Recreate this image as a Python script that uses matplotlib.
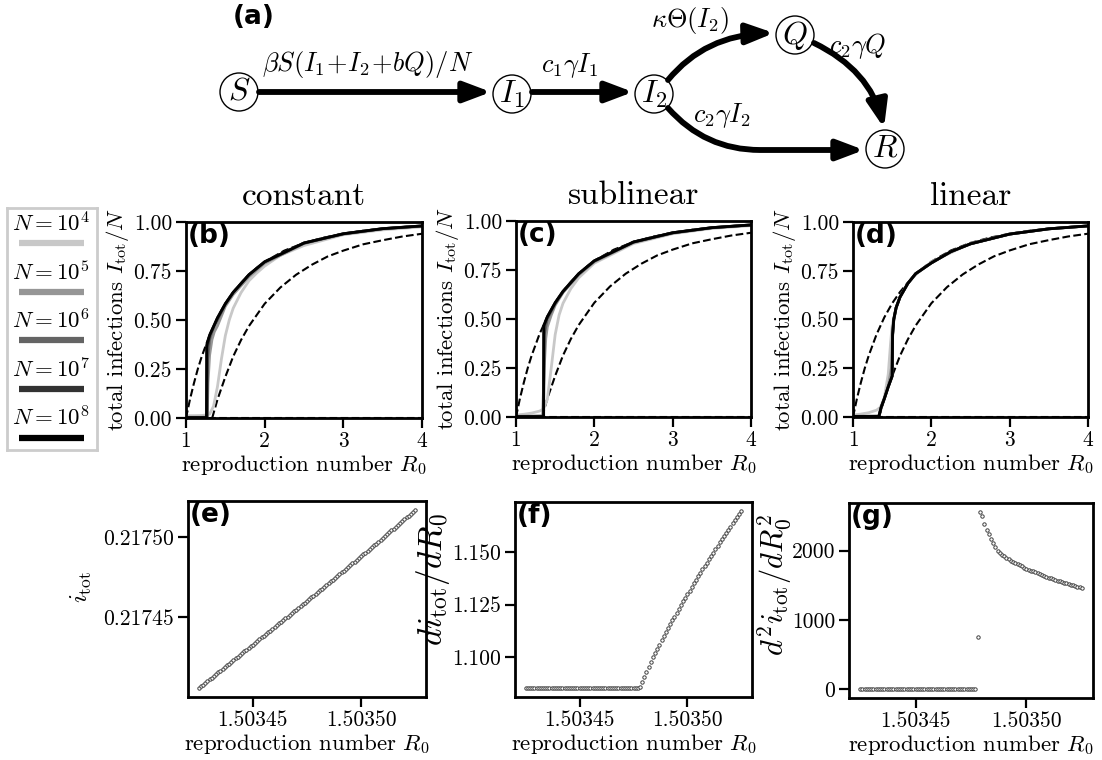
import numpy as np
import matplotlib.pyplot as plt
from matplotlib.patches import Circle, FancyArrowPatch, ArrowStyle
from matplotlib.path import Path
from matplotlib.ticker import FixedLocator, FormatStrFormatter

plt.rcParams['font.family'] = 'serif'
plt.rcParams['font.serif'] = ['cmr10']
plt.rcParams['mathtext.fontset'] = 'cm'
plt.rcParams['axes.unicode_minus'] = False

# ---- mean-field final sizes (dashed) ----
sir_r = [1.0, 1.05, 1.1, 1.15, 1.2, 1.3, 1.4, 1.5, 1.6, 1.7, 1.8, 1.9, 2.0,
         2.25, 2.5, 2.75, 3.0, 3.25, 3.5, 3.75, 4.0]
sir_i = [0.0, 0.094, 0.176, 0.250, 0.314, 0.423, 0.511, 0.583, 0.641, 0.689,
         0.731, 0.766, 0.797, 0.854, 0.893, 0.920, 0.940, 0.955, 0.966, 0.974, 0.980]
quar_r = [1.333, 1.4, 1.5, 1.6, 1.7, 1.8, 2.0, 2.2, 2.4, 2.6, 2.8, 3.0, 3.25,
          3.5, 3.75, 4.0]
quar_i = [0.0, 0.094, 0.210, 0.314, 0.398, 0.469, 0.583, 0.666, 0.731, 0.782,
          0.824, 0.854, 0.886, 0.907, 0.926, 0.940]

N_labels = [r'$N=10^4$', r'$N=10^5$', r'$N=10^6$', r'$N=10^7$', r'$N=10^8$']
N_colors = ['#c8c8c8', '#969696', '#646464', '#323232', '#000000']

# ---- constant quarantine capacity ----
const_r4 = [1.0, 1.1, 1.2, 1.25, 1.3, 1.35, 1.4, 1.45, 1.5, 1.55, 1.6, 1.7, 1.8, 1.9, 2.0, 2.2, 2.5, 3.0, 3.5, 4.0]
const_i4 = [0.012, 0.012, 0.013, 0.015, 0.02, 0.06, 0.16, 0.30, 0.42, 0.50, 0.56, 0.64, 0.70, 0.74, 0.775, 0.83, 0.88, 0.935, 0.96, 0.975]
const_r5 = [1.0, 1.2, 1.27, 1.28, 1.3, 1.33, 1.36, 1.4, 1.45, 1.5, 1.6, 1.8, 2.0, 2.5, 3.0, 3.5, 4.0]
const_i5 = [0.004, 0.004, 0.006, 0.18, 0.32, 0.40, 0.44, 0.47, 0.52, 0.57, 0.63, 0.72, 0.79, 0.89, 0.938, 0.965, 0.979]
const_r6 = [1.0, 1.2, 1.27, 1.275, 1.3, 1.33, 1.36, 1.4, 1.5, 1.6, 1.8, 2.0, 2.5, 3.0, 3.5, 4.0]
const_i6 = [0.002, 0.002, 0.003, 0.30, 0.40, 0.44, 0.47, 0.50, 0.58, 0.64, 0.73, 0.795, 0.892, 0.94, 0.966, 0.98]
const_r7 = [1.0, 1.2, 1.265, 1.27, 1.3, 1.4, 1.5, 1.6, 1.8, 2.0, 2.5, 3.0, 3.5, 4.0]
const_i7 = [0.002, 0.002, 0.002, 0.36, 0.42, 0.51, 0.583, 0.641, 0.731, 0.797, 0.893, 0.94, 0.966, 0.98]
const_r8 = [1.0, 1.2, 1.26, 1.262, 1.3, 1.4, 1.5, 1.6, 1.8, 2.0, 2.5, 3.0, 3.5, 4.0]
const_i8 = [0.002, 0.002, 0.002, 0.37, 0.423, 0.511, 0.583, 0.641, 0.731, 0.797, 0.893, 0.94, 0.966, 0.98]

# ---- sublinear ----
sub_r4 = [1.0, 1.1, 1.2, 1.3, 1.35, 1.4, 1.45, 1.5, 1.55, 1.6, 1.7, 1.8, 2.0, 2.5, 3.0, 3.5, 4.0]
sub_i4 = [0.01, 0.014, 0.02, 0.03, 0.04, 0.09, 0.25, 0.42, 0.52, 0.58, 0.655, 0.71, 0.785, 0.885, 0.935, 0.962, 0.976]
sub_r5 = [1.0, 1.2, 1.34, 1.36, 1.38, 1.4, 1.45, 1.5, 1.6, 1.8, 2.0, 2.5, 3.0, 3.5, 4.0]
sub_i5 = [0.004, 0.005, 0.006, 0.25, 0.40, 0.46, 0.52, 0.57, 0.635, 0.725, 0.792, 0.89, 0.938, 0.965, 0.979]
sub_r6 = [1.0, 1.2, 1.35, 1.36, 1.4, 1.5, 1.6, 1.8, 2.0, 2.5, 3.0, 3.5, 4.0]
sub_i6 = [0.003, 0.003, 0.004, 0.42, 0.50, 0.578, 0.638, 0.729, 0.795, 0.892, 0.94, 0.966, 0.98]
sub_r7 = [1.0, 1.2, 1.352, 1.356, 1.4, 1.5, 1.6, 1.8, 2.0, 2.5, 3.0, 3.5, 4.0]
sub_i7 = [0.002, 0.002, 0.002, 0.46, 0.511, 0.583, 0.641, 0.731, 0.797, 0.893, 0.94, 0.966, 0.98]
sub_r8 = [1.0, 1.2, 1.353, 1.355, 1.4, 1.5, 1.6, 1.8, 2.0, 2.5, 3.0, 3.5, 4.0]
sub_i8 = [0.002, 0.002, 0.002, 0.468, 0.511, 0.583, 0.641, 0.731, 0.797, 0.893, 0.94, 0.966, 0.98]

# ---- linear ----
lin_r4 = [1.0, 1.1, 1.2, 1.3, 1.35, 1.4, 1.45, 1.48, 1.5, 1.55, 1.6, 1.7, 1.8, 2.0, 2.5, 3.0, 3.5, 4.0]
lin_i4 = [0.01, 0.015, 0.022, 0.035, 0.05, 0.10, 0.22, 0.38, 0.47, 0.56, 0.615, 0.685, 0.73, 0.795, 0.89, 0.938, 0.965, 0.979]
lin_r5 = [1.0, 1.2, 1.33, 1.36, 1.4, 1.45, 1.49, 1.5, 1.52, 1.55, 1.6, 1.7, 1.8, 2.0, 2.25, 2.5, 3.0, 3.5, 4.0]
lin_i5 = [0.004, 0.005, 0.006, 0.05, 0.095, 0.16, 0.25, 0.38, 0.49, 0.56, 0.615, 0.685, 0.735, 0.79, 0.848, 0.888, 0.938, 0.965, 0.98]
lin_r8 = [1.0, 1.2, 1.33, 1.36, 1.4, 1.45, 1.5, 1.505, 1.52, 1.55, 1.6, 1.7, 1.8, 2.0, 2.25, 2.5, 3.0, 3.5, 4.0]
lin_i8 = [0.003, 0.003, 0.003, 0.05, 0.094, 0.155, 0.21, 0.42, 0.50, 0.56, 0.615, 0.685, 0.735, 0.79, 0.848, 0.888, 0.938, 0.965, 0.98]

# ---- zoom around the linear-capacity transition ----
r0_fine = np.linspace(1.503425, 1.503525, 101)  # sweep grid, step 1e-6
i_tot = [
    0.2174060, 0.2174071, 0.2174082, 0.2174093, 0.2174103, 0.2174114, 0.2174125, 0.2174136,
    0.2174147, 0.2174158, 0.2174169, 0.2174179, 0.2174190, 0.2174201, 0.2174212, 0.2174223,
    0.2174234, 0.2174245, 0.2174255, 0.2174266, 0.2174277, 0.2174288, 0.2174299, 0.2174310,
    0.2174320, 0.2174331, 0.2174342, 0.2174353, 0.2174364, 0.2174375, 0.2174386, 0.2174396,
    0.2174407, 0.2174418, 0.2174429, 0.2174440, 0.2174451, 0.2174462, 0.2174472, 0.2174483,
    0.2174494, 0.2174505, 0.2174516, 0.2174527, 0.2174538, 0.2174548, 0.2174559, 0.2174570,
    0.2174581, 0.2174592, 0.2174603, 0.2174614, 0.2174624, 0.2174635, 0.2174646, 0.2174657,
    0.2174668, 0.2174679, 0.2174690, 0.2174701, 0.2174712, 0.2174723, 0.2174734, 0.2174745,
    0.2174756, 0.2174767, 0.2174779, 0.2174790, 0.2174801, 0.2174812, 0.2174823, 0.2174835,
    0.2174846, 0.2174857, 0.2174868, 0.2174880, 0.2174891, 0.2174902, 0.2174914, 0.2174925,
    0.2174936, 0.2174948, 0.2174959, 0.2174971, 0.2174982, 0.2174994, 0.2175005, 0.2175017,
    0.2175028, 0.2175040, 0.2175051, 0.2175063, 0.2175074, 0.2175086, 0.2175098, 0.2175109,
    0.2175121, 0.2175132, 0.2175144, 0.2175156, 0.2175168]
di_tot = [1.0853] * 53 + [
    1.0857, 1.0883, 1.0908, 1.0932, 1.0955, 1.0977, 1.0999, 1.1020, 1.1040, 1.1060,
    1.1080, 1.1099, 1.1118, 1.1137, 1.1156, 1.1175, 1.1193, 1.1211, 1.1229, 1.1247,
    1.1265, 1.1283, 1.1300, 1.1317, 1.1334, 1.1351, 1.1368, 1.1385, 1.1402, 1.1418,
    1.1434, 1.1450, 1.1466, 1.1482, 1.1498, 1.1514, 1.1530, 1.1546, 1.1561, 1.1576,
    1.1591, 1.1606, 1.1621, 1.1636, 1.1651, 1.1666, 1.1681, 1.1696]
d2i_tot = [0.0] * 53 + [
    760, 2560, 2495, 2390, 2305, 2235, 2165, 2105, 2050, 1995, 1970, 1940, 1918,
    1895, 1875, 1857, 1838, 1820, 1803, 1787, 1771, 1756, 1741, 1727, 1713, 1699,
    1686, 1673, 1660, 1647, 1635, 1623, 1611, 1600, 1589, 1578, 1567, 1557, 1547,
    1537, 1527, 1518, 1509, 1500, 1491, 1482, 1474, 1466]

W, H = 1102, 760
fig = plt.figure(figsize=(W / 100, H / 100), dpi=100)

TICK_FS = 15.5
LABEL_FS = 16.5


def px_axes(left, top, right, bottom):
    return fig.add_axes([left / W, 1 - bottom / H, (right - left) / W, (bottom - top) / H])


def style(ax, tag):
    for s in ax.spines.values():
        s.set_linewidth(2)
    ax.tick_params(direction='out', length=7, width=1.6, labelsize=TICK_FS, pad=3)
    ax.text(0.006, 0.995, tag, transform=ax.transAxes, ha='left', va='top',
            family='DejaVu Sans', fontweight='bold', fontsize=19)


# ---- (a) compartment diagram ----
ax_a = fig.add_axes([0, 0, 1, 1], zorder=-1)
ax_a.set_xlim(0, W)
ax_a.set_ylim(H, 0)
ax_a.axis('off')

nodes = {'S': (239, 92), 'I_1': (512, 94), 'I_2': (654, 94), 'Q': (795, 35), 'R': (885, 149)}
for name, (x, y) in nodes.items():
    ax_a.add_patch(Circle((x, y), 19, fc='white', ec='black', lw=1))
    ax_a.text(x, y, '$' + name + '$', ha='center', va='center', fontsize=23)

head = ArrowStyle('-|>', head_length=0.9, head_width=0.34)


def flow(verts, codes):
    ax_a.add_patch(FancyArrowPatch(path=Path(verts, codes), arrowstyle=head,
                                   mutation_scale=18, lw=4.2, color='black',
                                   shrinkA=0, shrinkB=0))


flow([(259, 92), (491, 92)], [Path.MOVETO, Path.LINETO])
flow([(532, 92), (633, 92)], [Path.MOVETO, Path.LINETO])
flow([(668, 80), (705, 35), (774, 33)], [Path.MOVETO, Path.CURVE3, Path.CURVE3])
flow([(814, 43), (870, 70), (884, 128)], [Path.MOVETO, Path.CURVE3, Path.CURVE3])
flow([(668, 108), (705, 150), (760, 150), (864, 150)],
     [Path.MOVETO, Path.CURVE3, Path.CURVE3, Path.LINETO])

ax_a.text(368, 65, r'$\beta S(I_1\!+\!I_2\!+\!bQ)/N$', ha='center', va='center', fontsize=19)
ax_a.text(570, 65, r'$c_1\gamma I_1$', ha='center', va='center', fontsize=19)
ax_a.text(690, 20, r'$\kappa\Theta(I_2)$', ha='center', va='center', fontsize=19)
ax_a.text(858, 46, r'$c_2\gamma Q$', ha='center', va='center', fontsize=19)
ax_a.text(722, 116, r'$c_2\gamma I_2$', ha='center', va='center', fontsize=19)
ax_a.text(233, 17, '(a)', ha='left', va='center', family='DejaVu Sans',
          fontweight='bold', fontsize=19)

# ---- (b)-(d) total infections vs R0 ----
panels = [
    ('constant', '(b)', (186, 222, 422, 418),
     [(const_r4, const_i4), (const_r5, const_i5), (const_r6, const_i6),
      (const_r7, const_i7), (const_r8, const_i8)]),
    ('sublinear', '(c)', (516, 221, 751, 417),
     [(sub_r4, sub_i4), (sub_r5, sub_i5), (sub_r6, sub_i6),
      (sub_r7, sub_i7), (sub_r8, sub_i8)]),
    ('linear', '(d)', (853, 222, 1088, 417),
     [(lin_r4, lin_i4), (lin_r5, lin_i5), (lin_r8, lin_i8),
      (lin_r8, lin_i8), (lin_r8, lin_i8)]),
]
for title, tag, box, curves in panels:
    ax = px_axes(*box)
    ax.plot([1, 4], [0, 0], '--', color='black', lw=1.5)
    ax.plot(sir_r, sir_i, '--', color='black', lw=1.5)
    ax.plot(quar_r, quar_i, '--', color='black', lw=1.5)
    for (r, i), c in zip(curves, N_colors):
        ax.plot(r, i, color=c, lw=2)
    ax.set_xlim(1, 4)
    ax.set_ylim(0, 1)
    ax.xaxis.set_major_locator(FixedLocator([1, 2, 3, 4]))
    ax.yaxis.set_major_locator(FixedLocator([0, 0.25, 0.5, 0.75, 1.0]))
    ax.yaxis.set_major_formatter(FormatStrFormatter('%.2f'))
    ax.xaxis.set_major_formatter(FormatStrFormatter('%d'))
    ax.set_title(title, fontsize=24, pad=12)
    ax.set_xlabel(r'reproduction number $R_0$', fontsize=LABEL_FS, labelpad=1)
    ax.set_ylabel(r'total infections $I_{\rm tot}/N$', fontsize=LABEL_FS, labelpad=2)
    style(ax, tag)

# ---- legend box ----
ax_leg = px_axes(7, 208, 97, 450)
ax_leg.set_xlim(7, 97)
ax_leg.set_ylim(450, 208)
ax_leg.set_xticks([])
ax_leg.set_yticks([])
for s in ax_leg.spines.values():
    s.set_edgecolor('#cccccc')
    s.set_linewidth(2)
for k, (lab, c) in enumerate(zip(N_labels, N_colors)):
    y0 = 223 + 48.7 * k
    ax_leg.text(51, y0, lab, ha='center', va='center', fontsize=16.5)
    ax_leg.plot([19, 84], [y0 + 20, y0 + 20], color=c, lw=4.5, solid_capstyle='butt')

# ---- (e)-(g) close-up ----
fine = [
    ('(e)', (188, 501, 426, 697), i_tot, r'$i_{\rm tot}$', 18, 7, 0.56,
     [0.21745, 0.21750], '%.5f'),
    ('(f)', (515, 502, 752, 697), di_tot, r'$di_{\rm tot}/dR_0$', 24, 0, 0.6,
     [1.100, 1.125, 1.150], '%.3f'),
    ('(g)', (849, 503, 1093, 698), d2i_tot, r'$d^2i_{\rm tot}/dR_0^2$', 22, -2, 0.58,
     [0, 1000, 2000], '%d'),
]
for tag, box, vals, ylab, yfs, ypad, ypos, yt, yfmt in fine:
    ax = px_axes(*box)
    ax.scatter(r0_fine, vals, s=6, facecolors='white', edgecolors='#404040', linewidths=0.7)
    ax.set_xlim(1.50342, 1.50353)
    ax.xaxis.set_major_locator(FixedLocator([1.50345, 1.50350]))
    ax.xaxis.set_major_formatter(FormatStrFormatter('%.5f'))
    ax.yaxis.set_major_locator(FixedLocator(yt))
    ax.yaxis.set_major_formatter(FormatStrFormatter(yfmt))
    ax.set_xlabel(r'reproduction number $R_0$', fontsize=LABEL_FS, labelpad=1)
    ax.set_ylabel(ylab, fontsize=yfs, labelpad=ypad)
    ax.yaxis.label.set_y(ypos)
    style(ax, tag)

fig.savefig('out.png', dpi=100)
